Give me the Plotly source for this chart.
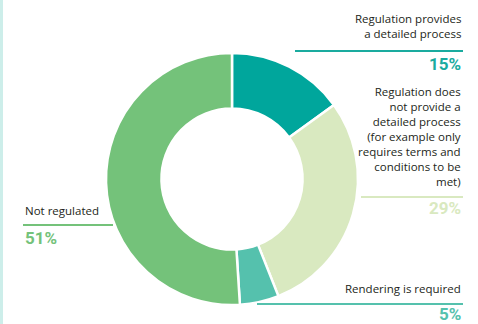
import plotly.graph_objects as go

# Share of jurisdictions by how rendering is regulated
categories = [
    "Regulation provides<br>a detailed process",
    "Regulation does<br>not provide a<br>detailed process<br>(for example only<br>requires terms and<br>conditions to be<br>met)",
    "Rendering is required",
    "Not regulated",
]
values = [15, 29, 5, 51]
colors = ["#00a69c", "#d9e9c0", "#55c1ad", "#74c27a"]
pct_colors = ["#1aab9f", "#d9e9c0", "#55c1ad", "#74c27a"]

W, H = 478, 324
cx, cy, r = 232, 179, 126


def px(x):
    return x / W


def py(y):
    return 1 - y / H


fig = go.Figure(
    go.Pie(
        values=values,
        labels=[c.replace("<br>", " ") for c in categories],
        sort=False,
        direction="clockwise",
        rotation=0,
        hole=0.56,
        marker=dict(colors=colors, line=dict(color="white", width=2.5)),
        textinfo="none",
        hoverinfo="label+percent",
        showlegend=False,
        domain=dict(x=[px(cx - r), px(cx + r)], y=[py(cy + r), py(cy - r)]),
    )
)

text_font = dict(family="Open Sans, sans-serif", size=11.5, color="#231f20")
pct_font_family = "Roboto, sans-serif"

# label blocks: (text bottom y, rule y, rule x0, rule x1, pct y, anchor side)
blocks = [
    (43, 51, 295, 463, 64, "right"),
    (191, 197, 361, 463, 208, "right"),
    (298, 304, 257, 463, 314, "right"),
    (220, 225, 23, 113, 238, "left"),
]

shapes = [
    dict(type="rect", xref="paper", yref="paper", x0=0, x1=px(3), y0=0, y1=1,
         fillcolor="#cdeeea", line=dict(width=0), layer="below")
]
annotations = []
for cat, val, col, (tb, ly, lx0, lx1, pyy, side) in zip(categories, values, pct_colors, blocks):
    shapes.append(dict(type="line", xref="paper", yref="paper",
                       x0=px(lx0), x1=px(lx1), y0=py(ly), y1=py(ly),
                       line=dict(color=col, width=2)))
    ax = px(463) if side == "right" else px(23)
    annotations.append(dict(
        text=cat, xref="paper", yref="paper", x=ax, y=py(tb),
        xanchor=side, yanchor="bottom", align=side, showarrow=False,
        font=text_font,
    ))
    annotations.append(dict(
        text=f"<b>{val}%</b>", xref="paper", yref="paper", x=ax, y=py(pyy),
        xanchor=side, yanchor="middle", align=side, showarrow=False,
        font=dict(family=pct_font_family, size=17, color=col),
    ))

fig.update_layout(
    width=W, height=H,
    margin=dict(l=0, r=0, t=0, b=0),
    paper_bgcolor="white",
    plot_bgcolor="white",
    shapes=shapes,
    annotations=annotations,
)

fig.write_html("out.html")
